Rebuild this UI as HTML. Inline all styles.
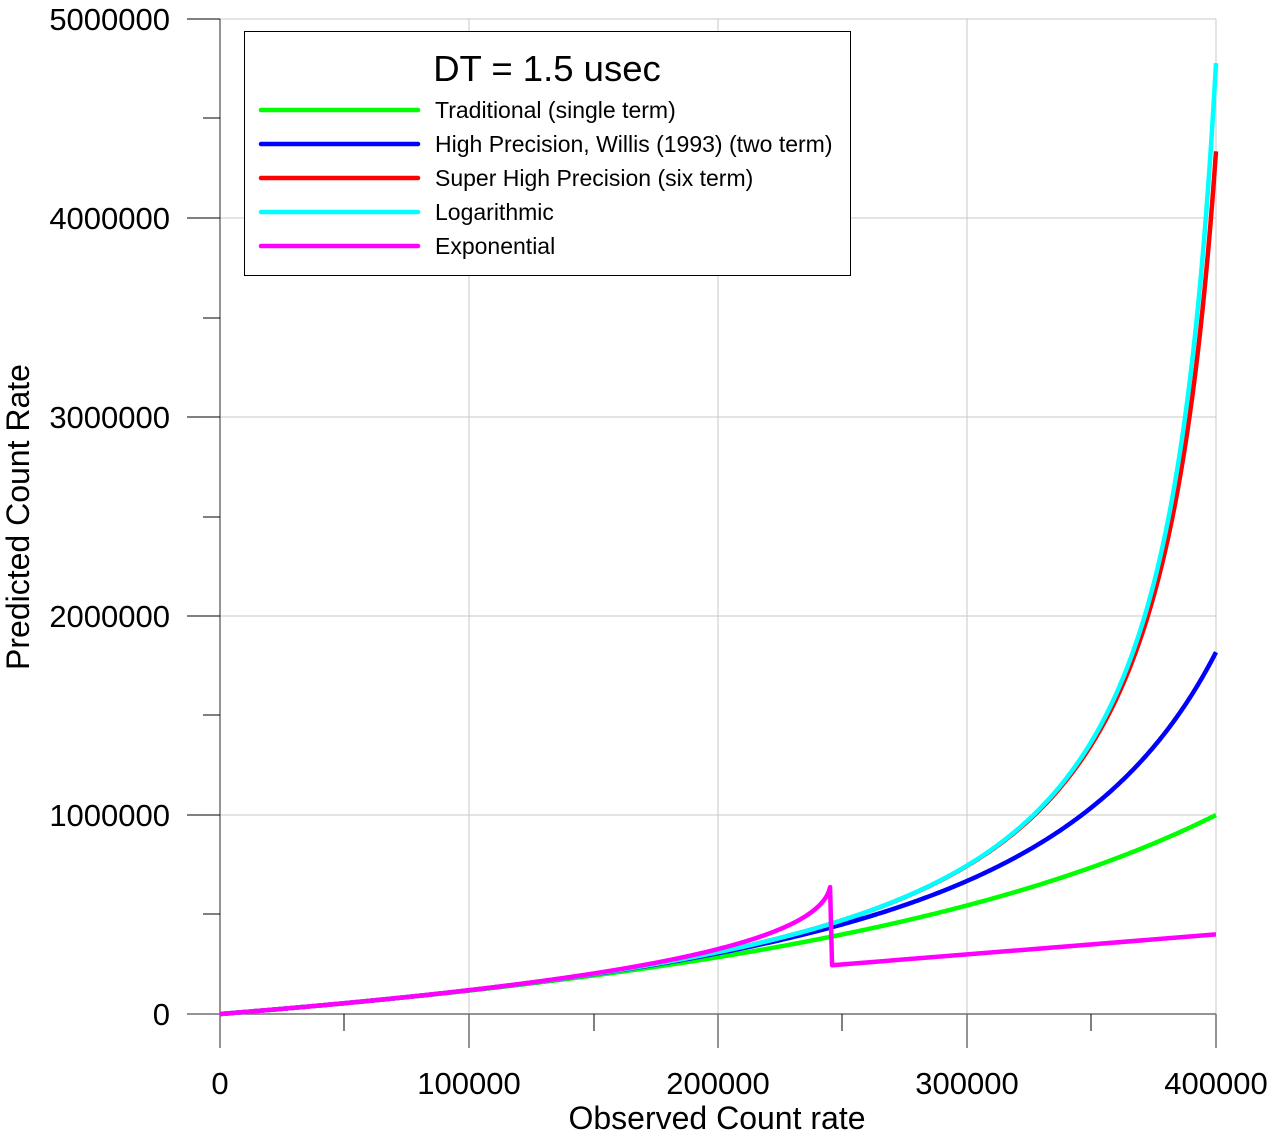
<!DOCTYPE html>
<html><head><meta charset="utf-8"><style>body{margin:0;background:#fff}svg{display:block}text{font-family:"Liberation Sans",Arial,sans-serif}</style></head>
<body>
<svg id="s" width="1269" height="1137" xmlns="http://www.w3.org/2000/svg">
<g stroke="#c8c8c8" stroke-width="1">
<line x1="220" y1="19" x2="1216" y2="19"/><line x1="220" y1="218" x2="1216" y2="218"/><line x1="220" y1="417" x2="1216" y2="417"/><line x1="220" y1="616" x2="1216" y2="616"/><line x1="220" y1="815" x2="1216" y2="815"/>
<line x1="469" y1="19" x2="469" y2="1014"/><line x1="718" y1="19" x2="718" y2="1014"/><line x1="967" y1="19" x2="967" y2="1014"/><line x1="1216" y1="19" x2="1216" y2="1014"/>
</g>
<g stroke="#707070" stroke-width="1.5">
<line x1="220" y1="19" x2="220" y2="1048"/><line x1="469" y1="1014" x2="469" y2="1048"/><line x1="718" y1="1014" x2="718" y2="1048"/><line x1="967" y1="1014" x2="967" y2="1048"/><line x1="1216" y1="1014" x2="1216" y2="1048"/>
<line x1="187" y1="1014" x2="1216" y2="1014"/>
</g>
<g stroke="#000" stroke-width="1">
<line x1="187" y1="19" x2="220" y2="19"/><line x1="187" y1="218" x2="220" y2="218"/><line x1="187" y1="417" x2="220" y2="417"/><line x1="187" y1="616" x2="220" y2="616"/><line x1="187" y1="815" x2="220" y2="815"/>
<line x1="203" y1="118" x2="220" y2="118"/><line x1="203" y1="318" x2="220" y2="318"/><line x1="203" y1="517" x2="220" y2="517"/><line x1="203" y1="715" x2="220" y2="715"/><line x1="203" y1="914" x2="220" y2="914"/>
<line x1="344" y1="1014" x2="344" y2="1031"/><line x1="594" y1="1014" x2="594" y2="1031"/><line x1="842" y1="1014" x2="842" y2="1031"/><line x1="1091" y1="1014" x2="1091" y2="1031"/>
</g>
<g font-size="31" fill="#000" text-anchor="end">
<text x="170" y="30">5000000</text><text x="170" y="229">4000000</text><text x="170" y="428">3000000</text><text x="170" y="627">2000000</text><text x="170" y="826">1000000</text><text x="170" y="1025">0</text>
</g>
<g font-size="31" fill="#000" text-anchor="middle">
<text x="220" y="1094">0</text><text x="469" y="1094">100000</text><text x="718" y="1094">200000</text><text x="967" y="1094">300000</text><text x="1216" y="1094">400000</text>
</g>
<g font-size="32" fill="#000" text-anchor="middle">
<text x="717" y="1129">Observed Count rate</text>
<text transform="translate(29,517) rotate(-90)">Predicted Count Rate</text>
</g>
<g id="curves" fill="none" stroke-width="4.5" stroke-linejoin="round"></g>
<rect x="244.5" y="31.5" width="606" height="244" fill="#fff" stroke="#000" stroke-width="1"/>
<text x="547" y="81" font-size="36.5" text-anchor="middle">DT = 1.5 usec</text>
<g stroke-width="4.5" stroke-linecap="round">
<line x1="261" y1="110" x2="418" y2="110" stroke="#00ff00"/>
<line x1="261" y1="144" x2="418" y2="144" stroke="#0000ff"/>
<line x1="261" y1="178" x2="418" y2="178" stroke="#ff0000"/>
<line x1="261" y1="212" x2="418" y2="212" stroke="#00ffff"/>
<line x1="261" y1="246" x2="418" y2="246" stroke="#ff00ff"/>
</g>
<g font-size="23">
<text x="435" y="118">Traditional (single term)</text>
<text x="435" y="152">High Precision, Willis (1993) (two term)</text>
<text x="435" y="186">Super High Precision (six term)</text>
<text x="435" y="220">Logarithmic</text>
<text x="435" y="254">Exponential</text>
</g>
</svg>
<script>
var t=1.5e-6,g=document.getElementById('curves');
function X(n){return 220+n/400000*996}function Y(v){return 1014-v/1e6*199}
function path(f,a,b,c){var d='';for(var n=a;n<=b+1e-6;n+=(b-a)/600){var v=f(n);d+=(d?'L':'M')+X(n).toFixed(2)+' '+Y(v).toFixed(2);}
var p=document.createElementNS('http://www.w3.org/2000/svg','path');p.setAttribute('d',d);p.setAttribute('stroke',c);g.appendChild(p);}
path(function(n){return n/(1-t*n)},0,400000,'#00ff00');
path(function(n){var x=t*n;return n/(1-x-x*x/2)},0,400000,'#0000ff');
path(function(n){var x=t*n,s=0;for(var k=1;k<=6;k++)s+=Math.pow(x,k)/k;return n/(1-s)},0,400000,'#ff0000');
path(function(n){return n/(1+Math.log(1-t*n))},0,400000,'#00ffff');
var nm=1/(Math.E*t)*0.999;
function ex(n){var lo=0,hi=1/t;for(var i=0;i<80;i++){var m=(lo+hi)/2;if(n*Math.exp(t*m)>m)lo=m;else hi=m;}return lo;}
var d='';for(var i=0;i<=600;i++){var n=nm*i/600;d+=(d?'L':'M')+X(n).toFixed(2)+' '+Y(ex(n)).toFixed(2);}
d+='L'+X(nm+800).toFixed(2)+' '+Y(nm).toFixed(2)+'L'+X(400000)+' '+Y(400000);
var p=document.createElementNS('http://www.w3.org/2000/svg','path');p.setAttribute('d',d);p.setAttribute('stroke','#ff00ff');g.appendChild(p);
</script>
</body></html>
